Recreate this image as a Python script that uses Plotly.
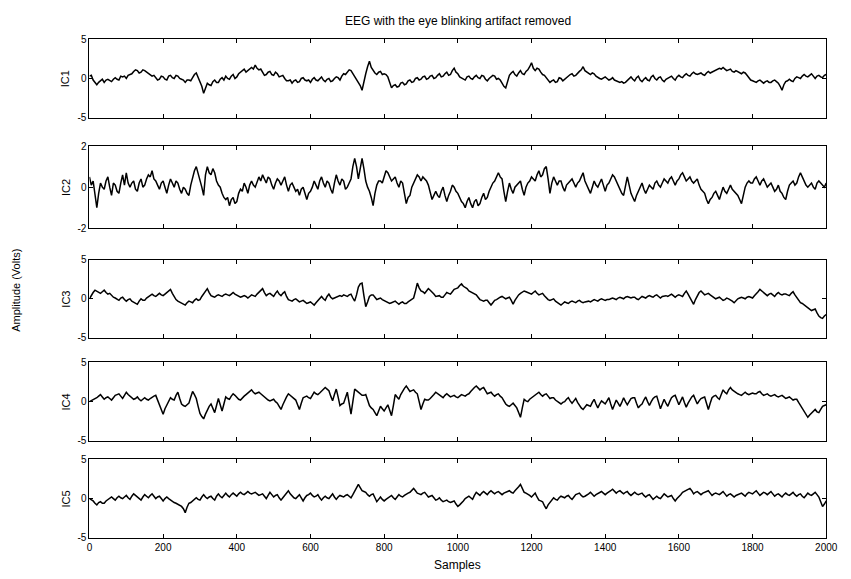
import plotly.graph_objects as go

# Values every 10 samples (0..2000) ...
ic1 = [
    0.3, -0.2, -0.8, -0.3, -0.5, -0.1, -0.4, 0.1, -0.2, 0.2,
    0.0, 0.5, 0.9, 1.0, 0.8, 1.0, 0.7, 0.3, 0.1, -0.1,
    0.2, -0.2, 0.4, 0.0, 0.3, -0.1, -0.5, -0.2, 0.1, 0.7,
    -0.3, -1.9, -0.6, -0.9, -0.2, -0.5, 0.1, 0.3, -0.1, 0.5,
    0.2, 0.8, 1.2, 1.0, 1.4, 1.7, 1.1, 0.8, 0.5, 0.9,
    0.4, 0.6, 0.3, 0.0, -0.3, -0.6, -0.2, -0.4, 0.1, -0.3,
    -0.5, 0.1, -0.3, 0.2, -0.4, 0.0, -0.3, 0.2, -0.2, 0.6,
    0.8, 1.0, 0.2, -0.5, -1.5, 0.6, 2.2, 1.0, 0.5, 0.9,
    0.6, 0.2, -1.2, -0.8, -1.0, -0.5, -0.7, -0.2, -0.4, 0.1,
    -0.1, 0.3, 0.0, 0.4, 0.1, 0.6, 0.3, 0.8, 0.5, 1.3,
    0.6, 0.1, -0.2, 0.3, -0.1, 0.4, 0.0, 0.3, -0.3, 0.2,
    0.3, 0.0, -0.6, -1.2, 0.4, 0.9, 0.3, 1.0, 0.5, 1.1,
    2.0, 1.0, 1.2, 0.5, 0.1, -0.5, -0.2, -0.4, 0.0, -0.1,
    0.3, 0.6, 0.4, 0.9, 1.5, 0.8, 0.5, 0.6, 0.1, -0.1,
    0.2, -0.2, 0.1, -0.3, -0.5, -0.6, -0.3, 0.2, -0.3, 0.3,
    -0.4, 0.1, -0.3, 0.4, -0.2, 0.2, -0.4, 0.0, 0.3, -0.2,
    0.4, 0.1, 0.6, 0.3, 0.8, 0.5, 0.7, 0.4, 0.9, 0.8,
    1.1, 1.3, 1.4, 1.0, 1.2, 0.8, 0.9, 0.6, 0.7, 0.1,
    -0.3, -0.5, -0.2, -0.6, -0.3, -0.5, -0.2, -0.6, -1.5, -0.4,
    -0.1, -0.4, 0.2, 0.0, 0.5, 0.2, 0.6, 0.0, 0.4, 0.1,
    0.5,
]
# ... and the fine jitter read between them (samples 5, 15, ..., 1995)
ic1_mid = [
    0.4, -0.5, -0.5, -0.1, -0.2, -0.3, -0.1, -0.1, 0.3, 0.3,
    0.4, 0.6, 1.1, 0.7, 1.1, 0.8, 0.5, 0.4, -0.2, 0.3,
    -0.1, 0.3, 0.1, 0.4, 0.0, -0.2, -0.2, -0.3, 0.5, 0.2,
    -1.0, -1.2, -0.8, -0.4, -0.5, -0.1, -0.2, 0.0, 0.3, 0.0,
    0.6, 0.9, 0.8, 1.3, 1.2, 1.3, 1.2, 0.4, 0.8, 0.5,
    0.8, 0.2, 0.4, -0.3, -0.2, -0.3, -0.5, 0.0, -0.2, -0.2,
    -0.1, -0.2, 0.0, -0.2, -0.1, -0.4, 0.0, 0.1, 0.3, 0.5,
    1.1, 0.6, -0.2, -0.9, -0.3, 1.5, 1.4, 0.7, 0.8, 0.5,
    0.5, -0.6, -0.9, -1.1, -0.6, -0.8, -0.3, -0.5, 0.0, -0.2,
    0.2, -0.1, 0.3, 0.0, 0.4, 0.2, 0.6, 0.4, 1.0, 0.8,
    0.2, 0.0, 0.2, 0.0, 0.2, 0.1, 0.4, -0.1, 0.0, 0.4,
    -0.1, -0.2, -1.0, -0.5, 0.7, 0.5, 0.7, 0.6, 0.9, 1.5,
    1.3, 1.3, 0.8, 0.4, -0.3, -0.3, -0.5, 0.1, -0.3, 0.2,
    0.5, 0.3, 0.7, 1.1, 1.0, 0.6, 0.7, 0.3, 0.0, 0.1,
    0.0, -0.1, -0.2, -0.4, -0.4, -0.5, 0.0, -0.1, 0.1, -0.2,
    -0.1, -0.2, 0.2, 0.0, 0.1, -0.2, -0.1, 0.2, 0.0, 0.2,
    0.2, 0.4, 0.4, 0.6, 0.6, 0.6, 0.5, 0.7, 0.7, 1.0,
    1.2, 1.2, 1.2, 1.1, 0.9, 1.0, 0.7, 0.8, 0.4, -0.2,
    -0.4, -0.3, -0.4, -0.4, -0.5, -0.3, -0.4, -1.0, -0.8, -0.3,
    -0.3, 0.0, 0.1, 0.3, 0.3, 0.4, 0.3, 0.3, 0.2, 0.4,
]

ic2 = [
    0.5, 0.3, -1.0, 0.2, -0.1, 0.5, -0.4, 0.1, -0.3, 0.6,
    0.7, 0.0, 0.3, -0.2, 0.4, 0.1, 0.6, 0.8, 0.3, -0.1,
    0.3, -0.3, 0.4, 0.0, 0.2, -0.3, -0.1, -0.4, 0.5, 1.0,
    0.4, -0.4, 1.0, 0.6, 0.7, 0.1, -0.3, -0.6, -0.9, -0.5,
    -0.7, -0.1, 0.2, -0.3, 0.3, 0.0, 0.5, 0.6, 0.2, 0.4,
    -0.1, 0.4, 0.1, 0.5, -0.2, 0.2, -0.2, -0.4, 0.0, -0.6,
    -0.2, 0.3, -0.1, 0.5, 0.0, 0.2, -0.3, 0.6, 0.1, 0.3,
    0.0, 0.4, 1.4, 0.4, 1.4, 0.3, -0.2, -0.9, 0.1, 0.3,
    0.5, 0.7, 0.3, 0.5, 0.0, 0.2, -0.8, -0.4, 0.2, 0.6,
    0.3, 0.4, 0.1, -0.6, -0.2, -0.5, 0.0, -0.7, -0.2, 0.0,
    -0.3, -0.7, -1.0, -0.5, -1.0, -0.6, -0.8, -0.3, -0.5, 0.0,
    0.3, 0.7, 0.4, -0.7, 0.2, -0.3, 0.1, 0.3, -0.4, 0.2,
    0.5, 0.3, 0.8, 0.6, 1.0, -0.3, 0.5, 0.1, 0.3, -0.2,
    0.2, 0.4, 0.0, 0.3, 0.7, 0.1, -0.3, 0.3, 0.0, 0.4,
    -0.2, 0.2, 0.6, 0.3, -0.1, -0.4, 0.5, -0.3, -0.7, -0.2,
    0.2, -0.3, 0.1, -0.1, 0.3, 0.0, 0.4, 0.2, 0.5, 0.1,
    0.4, 0.7, 0.3, 0.5, 0.2, 0.4, -0.1, -0.3, -0.8, -0.5,
    -0.2, -0.6, 0.0, -0.3, 0.1, -0.2, -0.4, -0.8, 0.0, 0.3,
    0.2, 0.5, 0.1, 0.4, 0.0, 0.2, -0.2, 0.1, -0.3, -0.6,
    0.1, 0.3, 0.2, 0.7, 0.3, 0.0, 0.2, -0.1, 0.3, 0.1,
    0.2,
]
ic2_mid = [
    0.1, -0.4, -0.3, 0.0, 0.3, 0.0, 0.2, -0.2, 0.2, 0.1,
    0.2, 0.2, -0.1, 0.2, 0.0, 0.4, 0.5, 0.4, 0.1, 0.2,
    0.0, 0.1, 0.2, 0.3, -0.1, 0.0, -0.3, 0.1, 0.8, 0.7,
    0.0, 0.6, 0.7, 0.9, 0.3, 0.0, -0.5, -0.5, -0.6, -0.8,
    -0.3, -0.2, 0.0, 0.1, 0.1, 0.3, 0.3, 0.4, 0.5, 0.1,
    0.2, 0.3, 0.3, 0.1, 0.1, 0.0, -0.1, -0.1, -0.3, -0.3,
    0.0, 0.1, 0.3, 0.2, 0.3, -0.1, 0.2, 0.3, 0.4, -0.1,
    0.2, 1.0, 1.0, 0.9, 0.9, 0.0, -0.5, -0.3, 0.3, 0.2,
    0.8, 0.5, 0.4, 0.2, 0.3, -0.3, -0.5, 0.0, 0.4, 0.5,
    0.5, 0.3, -0.3, -0.4, -0.4, -0.2, -0.4, -0.4, 0.1, -0.2,
    -0.5, -0.8, -0.7, -0.8, -0.7, -0.9, -0.5, -0.6, -0.2, 0.2,
    0.5, 0.5, -0.2, -0.2, -0.1, 0.0, 0.2, -0.1, 0.0, 0.3,
    0.4, 0.6, 0.5, 0.9, 0.4, 0.2, 0.3, 0.3, 0.0, 0.1,
    0.3, 0.2, 0.2, 0.5, 0.3, -0.1, 0.0, 0.1, 0.2, 0.1,
    0.1, 0.4, 0.5, 0.1, -0.3, 0.1, 0.1, -0.5, -0.4, 0.0,
    -0.1, -0.1, 0.0, 0.2, 0.1, 0.2, 0.3, 0.4, 0.3, 0.3,
    0.6, 0.5, 0.4, 0.3, 0.3, 0.1, -0.2, -0.6, -0.6, -0.3,
    -0.4, -0.3, -0.2, -0.1, -0.1, -0.3, -0.6, -0.4, 0.2, 0.2,
    0.4, 0.3, 0.3, 0.2, 0.1, 0.0, -0.1, -0.2, -0.5, -0.2,
    0.2, 0.1, 0.5, 0.5, 0.1, 0.1, 0.0, 0.2, 0.2, 0.0,
]

ic3 = [
    0.0, 0.8, 1.0, 0.7, 1.1, 0.6, 0.4, 0.1, -0.2, 0.2,
    -0.3, 0.0, -0.4, -0.7, 0.0, -0.2, 0.3, 0.6, 0.3, 0.7,
    0.4, 0.8, 1.2, 0.2, -0.3, -0.6, -0.8, -0.3, -0.5, 0.0,
    -0.1, 0.6, 1.3, 0.4, 0.2, 0.5, 0.3, 0.6, 0.4, 0.8,
    0.5, 0.2, 0.4, 0.1, 0.5, 0.3, 0.8, 1.3, 0.4, 0.7,
    0.3, 1.0, 0.4, 0.9, -0.1, -0.3, 0.0, -0.4, -0.2, -0.6,
    -0.4, -0.8, -0.2, 0.3, -0.2, 0.6, 0.0, 0.2, 0.4, 0.5,
    0.3, 0.6, -0.3, 1.5, 2.0, -1.0, 0.3, 0.5, -0.1, 0.1,
    -0.2, -0.4, -0.5, -0.3, -0.7, -0.4, -0.6, -0.2, 0.1, 2.0,
    1.0, 0.7, 1.3, 0.9, 0.3, 0.4, 0.2, 0.8, 0.6, 1.2,
    1.4, 1.9, 1.5, 1.0, 0.8, 0.5, -0.1, -0.3, -0.2, -0.8,
    -0.2, 0.1, 0.3, 0.0, 0.2, -0.7, 0.2, 0.7, 1.0, 0.8,
    0.6, 1.0, 0.5, 0.7, 0.1, -0.2, 0.0, -0.5, -0.8, -0.4,
    -0.6, -0.3, -0.5, -0.2, -0.5, -0.3, -0.4, -0.1, -0.3, 0.0,
    -0.2, -0.1, 0.1, -0.1, 0.2, 0.0, 0.3, 0.1, 0.2, -0.1,
    0.3, 0.1, 0.4, 0.2, 0.5, 0.1, 0.4, 0.3, 0.6, 0.2,
    0.5, 0.3, 1.0, 0.2, -0.7, 0.4, 1.0, 0.5, 0.7, 0.3,
    0.0, 0.2, -0.2, 0.1, -0.1, -0.5, 0.0, 0.2, 0.0, 0.3,
    0.1, 0.6, 1.2, 0.8, 0.4, 0.7, 0.3, 0.8, 0.5, 0.6,
    0.4, 0.9, 0.2, -0.5, -0.8, -1.2, -1.5, -1.3, -2.2, -2.5,
    -2.0,
]
ic3_mid = [
    0.5, 1.1, 0.8, 0.9, 0.8, 0.7, 0.2, 0.0, 0.1, -0.1,
    -0.1, -0.3, -0.5, -0.3, -0.2, 0.1, 0.4, 0.4, 0.5, 0.5,
    0.6, 0.9, 0.7, -0.1, -0.4, -0.7, -0.5, -0.4, -0.2, -0.2,
    0.3, 0.9, 0.8, 0.3, 0.4, 0.4, 0.5, 0.5, 0.6, 0.6,
    0.4, 0.3, 0.3, 0.3, 0.4, 0.6, 1.0, 0.8, 0.6, 0.5,
    0.7, 0.6, 0.7, 0.3, -0.2, -0.1, -0.2, -0.3, -0.4, -0.5,
    -0.6, -0.5, 0.0, 0.0, 0.3, 0.2, 0.1, 0.3, 0.3, 0.4,
    0.5, 0.1, 0.5, 1.9, 0.4, -0.4, 0.5, 0.2, 0.0, -0.1,
    -0.3, -0.6, -0.4, -0.5, -0.5, -0.6, -0.4, -0.1, 1.0, 1.4,
    0.9, 1.0, 1.1, 0.6, 0.4, 0.2, 0.5, 0.7, 0.9, 1.3,
    1.7, 1.6, 1.3, 0.9, 0.6, 0.2, -0.2, -0.2, -0.5, -0.5,
    -0.1, 0.2, 0.1, 0.1, -0.2, -0.2, 0.5, 0.8, 0.9, 0.7,
    0.8, 0.7, 0.6, 0.4, -0.1, -0.1, -0.3, -0.6, -0.6, -0.5,
    -0.4, -0.4, -0.3, -0.4, -0.4, -0.3, -0.2, -0.2, -0.1, -0.1,
    -0.1, 0.0, 0.0, 0.1, 0.1, 0.2, 0.2, 0.2, 0.0, 0.1,
    0.2, 0.3, 0.3, 0.4, 0.3, 0.3, 0.4, 0.5, 0.4, 0.4,
    0.4, 0.7, 0.6, -0.3, -0.1, 0.8, 0.7, 0.6, 0.5, 0.1,
    0.1, 0.0, -0.1, 0.0, -0.3, -0.2, 0.1, 0.1, 0.2, 0.2,
    0.4, 0.9, 1.0, 0.6, 0.6, 0.5, 0.6, 0.6, 0.6, 0.5,
    0.7, 0.5, -0.2, -0.6, -1.0, -1.4, -1.4, -1.8, -2.4, -2.2,
]

ic4 = [
    0.0, 0.2, 0.5, 0.9, 0.3, 0.6, 0.2, 0.8, 1.0, 0.4,
    1.2, 0.7, 0.3, 0.6, 0.1, 0.5, 0.2, 0.6, 0.8, -0.5,
    -1.6, -0.4, 0.5, 0.2, 1.2, -0.3, -0.6, -0.2, 1.3, 0.4,
    -1.5, -2.2, -1.0, -0.3, -1.4, 0.4, -1.2, 0.6, 0.3, 1.0,
    0.5, 0.2, 0.7, 1.1, 1.5, 1.0, 1.2, 0.8, 0.3, 0.1,
    0.3, -0.2, -1.0, 0.2, 1.0, 0.6, 0.2, -1.0, 0.5, 0.7,
    0.4, 1.2, 0.9, 1.3, 1.8, 1.4, 0.1, 1.6, -0.5, -0.2,
    1.2, -1.6, 1.6, 1.2, 0.8, 0.9, -0.5, -1.0, -1.8, -0.6,
    -1.2, -0.4, -1.8, 0.9, 0.3, 1.4, 2.0, 1.3, 1.5, 1.0,
    -1.0, 0.3, 0.2, 0.6, 1.2, 0.8, 0.5, 1.0, 0.6, 0.8,
    0.5, 0.9, 0.7, 1.0, 1.6, 2.0, 1.5, 1.8, 1.0, 1.2,
    0.7, 1.0, 0.5, -0.3, -0.6, -0.2, -0.8, -2.0, 0.3, 0.0,
    0.5, 0.8, 1.2, 0.7, 1.0, 0.4, 0.5, 0.0, -0.3, 0.0,
    0.5, -0.2, 0.4, -0.5, -1.0, -0.4, -0.6, 0.3, -0.8, 0.1,
    -0.3, 0.5, -1.0, 0.2, -0.6, 0.5, -0.4, 0.4, 0.5, -0.8,
    -0.3, 0.6, -0.5, 0.4, 0.7, -0.9, 0.3, -0.6, 0.5, 0.8,
    -0.4, 0.6, -0.7, 0.3, 0.8, -0.3, 0.4, 0.6, -1.0, 0.5,
    0.8, 0.3, 1.5, 1.0, 1.8, 1.3, 1.0, 0.8, 1.2, 0.9,
    1.1, 1.0, 1.3, 0.8, 1.0, 0.7, 0.9, 0.6, 0.8, 0.4,
    0.6, 0.2, 0.3, -0.5, -1.2, -2.0, -1.5, -1.0, -1.4, -0.6,
    -0.4,
]
ic4_mid = [
    0.1, 0.4, 0.7, 0.6, 0.5, 0.4, 0.5, 0.9, 0.7, 0.8,
    0.9, 0.5, 0.4, 0.3, 0.3, 0.3, 0.4, 0.7, 0.2, -1.0,
    -0.9, 0.1, 0.3, 0.8, 0.4, -0.5, -0.4, 0.6, 0.9, -0.6,
    -1.9, -1.6, -0.6, -0.9, -0.5, -0.4, -0.3, 0.4, 0.7, 0.8,
    0.3, 0.5, 0.9, 1.3, 1.2, 1.1, 1.0, 0.5, 0.2, 0.2,
    0.0, -0.6, -0.4, 0.6, 0.8, 0.4, -0.4, -0.2, 0.6, 0.5,
    0.8, 1.0, 1.1, 1.5, 1.6, 0.7, 0.9, 0.6, -0.3, 0.5,
    -0.2, 0.0, 1.4, 1.0, 0.8, 0.2, -0.8, -1.4, -1.2, -0.9,
    -0.8, -1.1, -0.5, 0.6, 0.9, 1.7, 1.6, 1.4, 1.2, 0.0,
    -0.3, 0.2, 0.4, 0.9, 1.0, 0.6, 0.8, 0.8, 0.7, 0.6,
    0.7, 0.8, 0.9, 1.3, 1.8, 1.7, 1.7, 1.4, 1.1, 0.9,
    0.9, 0.7, 0.1, -0.5, -0.4, -0.5, -1.4, -0.8, 0.1, 0.3,
    0.7, 1.0, 0.9, 0.9, 0.7, 0.5, 0.2, -0.2, -0.1, 0.3,
    0.1, 0.1, -0.1, -0.8, -0.7, -0.5, -0.1, -0.3, -0.3, -0.1,
    0.1, -0.3, -0.4, -0.2, -0.1, 0.0, 0.0, 0.5, -0.2, -0.5,
    0.2, 0.0, 0.0, 0.6, -0.1, -0.3, -0.2, 0.0, 0.7, 0.2,
    0.1, -0.1, -0.2, 0.6, 0.2, 0.1, 0.5, -0.2, -0.2, 0.7,
    0.5, 0.9, 1.2, 1.5, 1.5, 1.2, 0.9, 1.0, 1.0, 1.0,
    1.0, 1.2, 1.0, 0.9, 0.8, 0.8, 0.7, 0.7, 0.6, 0.5,
    0.4, 0.3, -0.1, -0.9, -1.6, -1.7, -1.2, -1.3, -1.0, -0.5,
]

ic5 = [
    0.0, -0.3, -0.8, -0.4, -0.6, -0.1, 0.2, -0.2, 0.3, 0.0,
    0.4, -0.1, 0.6, 0.2, -0.2, 0.5, 0.1, 0.6, 0.0, 0.3,
    -0.3, 0.2, -0.2, -0.5, -0.7, -1.0, -1.8, -0.6, -0.3, 0.1,
    -0.2, 0.5, 0.0, 0.3, -0.2, 0.6, 0.1, 0.7, 0.2, 0.7,
    0.3, 0.8, 0.5, 0.9, 0.6, 0.8, 0.4, 0.6, 0.0, 0.8,
    0.2, 0.5, -0.2, 0.4, 1.0, 0.3, 0.0, 0.5, -0.3, 0.4,
    0.7, 0.2, 0.5, -0.2, 0.3, 0.0, 0.6, -0.1, 0.4, 0.2,
    0.5, 0.1, 0.9, 1.8, 1.0, 0.8, 0.3, 0.6, -0.4, 0.2,
    -0.3, 0.1, 0.4, -0.1, 0.5, 0.2, 0.6, 0.8, 1.3, 0.7,
    0.5, 0.8, 0.2, 0.4, -0.2, 0.1, -0.4, -0.2, -0.5, -0.3,
    -1.0, -0.6, 0.0, 0.3, -0.1, 0.8, 0.4, 0.9, 0.5, 1.0,
    0.6, 0.9, 0.5, 0.8, 1.0, 0.7, 1.2, 1.8, 0.8, 0.6,
    0.2, 0.7, -0.2, -0.4, -1.3, -0.5, 0.1, -0.2, 0.3, 0.1,
    0.4, -0.1, 0.5, 0.7, 0.2, 0.4, 0.8, 0.3, 0.6, 0.9,
    0.5, 0.8, 1.2, 0.7, 1.0, 0.6, 0.9, 0.4, 0.8, 0.5,
    0.7, 0.2, 0.5, -0.1, 0.3, 0.0, 0.6, 0.2, 0.4, -0.3,
    0.2, 0.8, 1.0, 1.3, 0.6, 0.9, 0.5, 0.8, 1.0, 0.4,
    0.7, 0.5, 0.9, 0.3, 0.6, 0.2, 0.5, 0.7, 0.3, 0.8,
    0.6, 1.0, 0.4, 0.8, 0.5, 0.9, 0.3, 0.6, 0.2, 0.7,
    0.4, 0.8, 0.3, 0.6, 0.1, 0.7, 0.4, 0.8, 0.2, -1.0,
    -0.3,
]
ic5_mid = [
    -0.1, -0.6, -0.5, -0.6, -0.3, 0.1, 0.0, 0.1, 0.1, 0.2,
    0.1, 0.3, 0.4, 0.0, 0.2, 0.3, 0.4, 0.3, 0.2, 0.0,
    0.0, 0.0, -0.4, -0.6, -0.8, -1.3, -1.1, -0.5, -0.1, -0.1,
    0.2, 0.2, 0.2, 0.0, 0.3, 0.3, 0.4, 0.4, 0.5, 0.5,
    0.6, 0.6, 0.7, 0.7, 0.7, 0.6, 0.5, 0.3, 0.4, 0.5,
    0.4, 0.1, 0.1, 0.7, 0.6, 0.1, 0.3, 0.1, 0.1, 0.5,
    0.4, 0.3, 0.1, 0.1, 0.1, 0.3, 0.2, 0.2, 0.3, 0.4,
    0.3, 0.5, 1.3, 1.4, 0.9, 0.5, 0.5, 0.1, -0.1, -0.1,
    -0.1, 0.3, 0.1, 0.2, 0.3, 0.4, 0.7, 1.0, 1.0, 0.6,
    0.7, 0.5, 0.3, 0.1, -0.1, -0.2, -0.3, -0.4, -0.4, -0.7,
    -0.8, -0.3, 0.2, 0.1, 0.4, 0.6, 0.7, 0.7, 0.8, 0.8,
    0.8, 0.7, 0.7, 0.9, 0.8, 1.0, 1.5, 1.2, 0.7, 0.4,
    0.5, 0.2, -0.3, -0.9, -0.8, -0.2, -0.1, 0.1, 0.2, 0.3,
    0.1, 0.2, 0.6, 0.4, 0.3, 0.6, 0.5, 0.5, 0.8, 0.7,
    0.7, 1.0, 0.9, 0.9, 0.8, 0.8, 0.6, 0.6, 0.6, 0.6,
    0.4, 0.4, 0.2, 0.1, 0.1, 0.3, 0.4, 0.3, 0.0, 0.0,
    0.5, 0.9, 1.2, 1.0, 0.8, 0.7, 0.7, 0.9, 0.7, 0.6,
    0.6, 0.7, 0.6, 0.5, 0.4, 0.4, 0.6, 0.5, 0.6, 0.7,
    0.8, 0.7, 0.6, 0.7, 0.7, 0.6, 0.5, 0.4, 0.5, 0.5,
    0.6, 0.5, 0.5, 0.3, 0.4, 0.5, 0.6, 0.5, -0.4, -0.7,
]

channel_names = ["IC1", "IC2", "IC3", "IC4", "IC5"]
channel_main = [ic1, ic2, ic3, ic4, ic5]
channel_mid = [ic1_mid, ic2_mid, ic3_mid, ic4_mid, ic5_mid]
channel_limits = [5, 2, 5, 5, 5]
x_ticks = [0, 200, 400, 600, 800, 1000, 1200, 1400, 1600, 1800, 2000]
x_range = [0, 2000]
STEP = 10

title_text = "EEG with the eye blinking artifact removed"
x_title = "Samples"
y_title = "Amplitude (Volts)"

# ---- layout geometry (pixels) ----
W, H = 851, 579
LEFT, RIGHT = 88, 838
PANEL_TOPS = [34, 143, 259, 364, 463]
PANEL_HS = [80, 84, 80, 80, 80]
FONT = "Liberation Sans, Arial, sans-serif"


def interleave(main, mid):
    xs, ys = [], []
    for i, v in enumerate(main):
        xs.append(i * STEP)
        ys.append(v)
        if i < len(mid):
            xs.append(i * STEP + STEP / 2)
            ys.append(mid[i])
    return xs, ys


def label(text, x, y, size, angle=0):
    return dict(
        text=text, xref="paper", yref="paper", x=x / W, y=1 - y / H,
        xanchor="center", yanchor="middle", showarrow=False,
        textangle=angle, font=dict(family=FONT, size=size, color="black"),
    )


fig = go.Figure()
layout = dict(
    width=W, height=H,
    margin=dict(l=0, r=0, t=0, b=0),
    paper_bgcolor="white", plot_bgcolor="white",
    showlegend=False,
    font=dict(family=FONT, size=10, color="black"),
)

annotations = []
for i, (name, main, mid, lim) in enumerate(zip(channel_names, channel_main, channel_mid, channel_limits)):
    k = "" if i == 0 else str(i + 1)
    xs, ys = interleave(main, mid)
    fig.add_trace(go.Scatter(
        x=xs, y=ys, mode="lines",
        line=dict(color="black", width=1.5),
        xaxis="x" + k, yaxis="y" + k, hoverinfo="skip",
    ))
    top = PANEL_TOPS[i]
    bot = top + PANEL_HS[i]
    layout["xaxis" + k] = dict(
        domain=[LEFT / W, RIGHT / W], range=x_range, anchor="y" + k,
        tickvals=x_ticks, ticktext=[str(t) for t in x_ticks],
        ticks="inside", ticklen=4, tickcolor="black",
        showline=True, linecolor="black", linewidth=1, mirror="ticks",
        showgrid=False, zeroline=False,
        showticklabels=(i == len(channel_names) - 1),
        tickfont=dict(family=FONT, size=10, color="black"),
    )
    yt = [-lim, 0, lim]
    layout["yaxis" + k] = dict(
        domain=[1 - bot / H, 1 - top / H], range=[-lim, lim], anchor="x" + k,
        tickvals=yt, ticktext=[str(v) for v in yt],
        ticks="inside", ticklen=4, tickcolor="black",
        showline=True, linecolor="black", linewidth=1, mirror="ticks",
        showgrid=False, zeroline=False,
        tickfont=dict(family=FONT, size=10, color="black"),
    )
    annotations.append(label(name, 64, top + PANEL_HS[i] / 2, 11, -90))

annotations.append(label(title_text, (LEFT + RIGHT) / 2, 15, 12))
annotations.append(label(x_title, (LEFT + RIGHT) / 2, 571, 12))
annotations.append(label(y_title, 13, 290, 11, -90))
layout["annotations"] = annotations
fig.update_layout(**layout)

fig.write_html("out.html")
